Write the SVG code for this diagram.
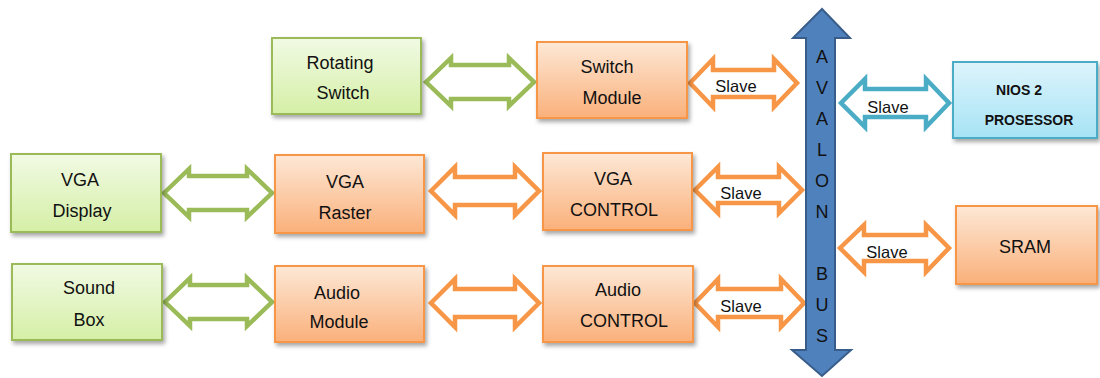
<svg xmlns="http://www.w3.org/2000/svg" width="1100" height="378" viewBox="0 0 1100 378">
<defs>
<linearGradient id="gG" x1="0" y1="0" x2="0" y2="1"><stop offset="0" stop-color="#f1fae4"/><stop offset="1" stop-color="#d5efa6"/></linearGradient>
<linearGradient id="gO" x1="0" y1="0" x2="0" y2="1"><stop offset="0" stop-color="#fde8d6"/><stop offset="1" stop-color="#fab07a"/></linearGradient>
<linearGradient id="gB" x1="0" y1="0" x2="0" y2="1"><stop offset="0" stop-color="#ddf4fb"/><stop offset="1" stop-color="#a6e3f5"/></linearGradient>
<filter id="sh" x="-10%" y="-10%" width="130%" height="140%"><feDropShadow dx="2" dy="3" stdDeviation="2" flood-color="#000" flood-opacity="0.35"/></filter>
<style>
.g{fill:url(#gG);stroke:#9bbb59;stroke-width:2;filter:url(#sh)}
.o{fill:url(#gO);stroke:#f79646;stroke-width:2;filter:url(#sh)}
.b{fill:url(#gB);stroke:#4bacc6;stroke-width:2;filter:url(#sh)}
text{font-family:"Liberation Sans",Arial,sans-serif;font-size:18px;fill:#111;text-anchor:middle}
.bold{font-weight:bold;font-size:14px}
.sl{font-size:16.5px}
.ag{fill:#fff;stroke:#9bbb59;stroke-width:4.5;stroke-linejoin:miter}
.ao{fill:#fff;stroke:#f79646;stroke-width:4.5;stroke-linejoin:miter}
.ab{fill:#fff;stroke:#4bacc6;stroke-width:4.5;stroke-linejoin:miter}
</style>
</defs>

<g id="connectors">
<!-- green arrows -->
<path class="ag" d="M426,82 L451,58 L451,65 L509,65 L509,58 L534,82 L509,106 L509,99 L451,99 L451,106 Z"/>
<path class="ag" d="M164,193 L189,169 L189,176 L247,176 L247,169 L272,193 L247,217 L247,210 L189,210 L189,217 Z"/>
<path class="ag" d="M165,302 L190,278 L190,285 L247,285 L247,278 L272,302 L247,326 L247,319 L190,319 L190,326 Z"/>
<!-- orange module-control arrows -->
<path class="ao" d="M431,191 L455,167 L455,177 L515,177 L515,167 L539,191 L515,215 L515,205 L455,205 L455,215 Z"/>
<path class="ao" d="M431,303 L455,279 L455,289 L515,289 L515,279 L539,303 L515,327 L515,317 L455,317 L455,327 Z"/>
<!-- slave arrows -->
<path class="ao" d="M690,83 L713,59 L713,70 L774,70 L774,59 L797,83 L774,107 L774,97 L713,97 L713,107 Z"/>
<text class="sl" x="736" y="92">Slave</text>
<path class="ao" d="M695,190 L718,167 L718,177 L779,177 L779,167 L802,190 L779,213 L779,203 L718,203 L718,213 Z"/>
<text class="sl" x="741" y="199">Slave</text>
<path class="ao" d="M695,303 L718,279 L718,289 L781,289 L781,279 L804,303 L781,327 L781,317 L718,317 L718,327 Z"/>
<text class="sl" x="741" y="312">Slave</text>
<path class="ab" d="M841,103 L865,79 L865,89 L926,89 L926,79 L949,103 L926,127 L926,117 L865,117 L865,127 Z"/>
<text class="sl" x="888" y="113">Slave</text>
<path class="ao" d="M840,248 L864,225 L864,235 L926,235 L926,225 L949,248 L926,272 L926,261 L864,261 L864,272 Z"/>
<text class="sl" x="887" y="258">Slave</text>
</g>

<g id="bus">
<path d="M822,9 L850,38 L835,38 L835,350 L851,350 L822,376 L792,350 L806,350 L806,38 L793,38 Z" fill="#4f81bd" stroke="#385d8a" stroke-width="2"/>
<text x="822" y="63">A</text>
<text x="822" y="94">V</text>
<text x="822" y="125">A</text>
<text x="822" y="156">L</text>
<text x="822" y="187">O</text>
<text x="822" y="218">N</text>
<text x="822" y="280">B</text>
<text x="822" y="311">U</text>
<text x="822" y="342">S</text>
</g>

<g id="rotating-switch">
<rect class="g" x="272" y="38" width="149" height="76"/>
<text x="340" y="69">Rotating</text>
<text x="343" y="99">Switch</text>
</g>
<g id="switch-module">
<rect class="o" x="537" y="42" width="150" height="76"/>
<text x="607" y="73">Switch</text>
<text x="612" y="104">Module</text>
</g>
<g id="vga-display">
<rect class="g" x="11" y="154" width="150" height="78"/>
<text x="80" y="186">VGA</text>
<text x="82" y="217">Display</text>
</g>
<g id="vga-raster">
<rect class="o" x="275" y="155" width="149" height="78"/>
<text x="345" y="188">VGA</text>
<text x="345" y="219">Raster</text>
</g>
<g id="vga-control">
<rect class="o" x="543" y="153" width="149" height="77"/>
<text x="613" y="185">VGA</text>
<text x="614" y="216">CONTROL</text>
</g>
<g id="sound-box">
<rect class="g" x="12" y="264" width="150" height="76"/>
<text x="89" y="294">Sound</text>
<text x="89" y="326">Box</text>
</g>
<g id="audio-module">
<rect class="o" x="275" y="266" width="149" height="76"/>
<text x="337" y="299">Audio</text>
<text x="339" y="328">Module</text>
</g>
<g id="audio-control">
<rect class="o" x="543" y="266" width="150" height="76"/>
<text x="618" y="296">Audio</text>
<text x="624" y="327">CONTROL</text>
</g>
<g id="nios">
<rect class="b" x="953" y="62" width="144" height="76"/>
<text class="bold" x="1019" y="95">NIOS 2</text>
<text class="bold" x="1029" y="125">PROSESSOR</text>
</g>
<g id="sram">
<rect class="o" x="956" y="206" width="141" height="78"/>
<text x="1025" y="253">SRAM</text>
</g>
</svg>
